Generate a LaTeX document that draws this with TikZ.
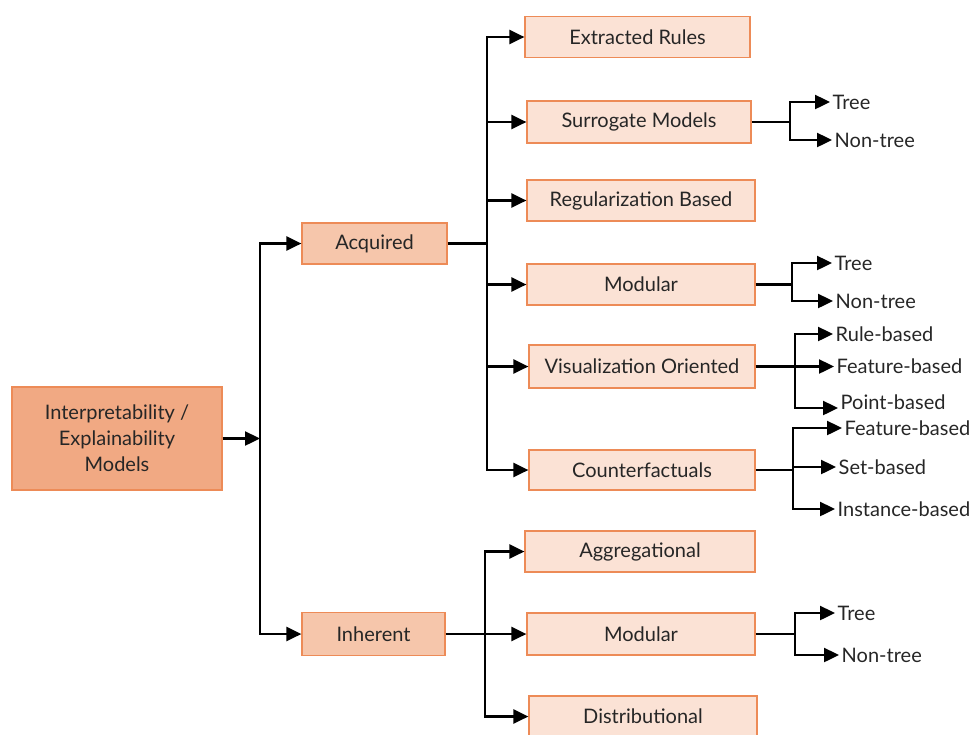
\documentclass[tikz,border=0pt]{standalone}
\usepackage{fontspec}
\setmainfont{Lato}
\usetikzlibrary{arrows.meta}
\definecolor{rootfill}{HTML}{F1A983}
\definecolor{midfill}{HTML}{F6C6AB}
\definecolor{leaffill}{HTML}{FBE2D5}
\definecolor{boxline}{HTML}{ED8B57}
\definecolor{ink}{HTML}{262626}
\tikzset{
  box/.style={draw=boxline, line width=1.2pt, text=ink, align=center,
    font=\fontsize{20}{26}\selectfont, inner sep=0pt},
  rootbox/.style={box, fill=rootfill},
  midbox/.style={box, fill=midfill},
  leafbox/.style={box, fill=leaffill},
  tag/.style={anchor=west, text=ink, inner sep=2.5pt, font=\fontsize{20}{24}\selectfont},
  link/.style={draw=black, line width=2.4pt},
  arr/.style={link, -{Triangle[length=15pt,width=14pt]}},
}
\begin{document}
\begin{tikzpicture}[x=1pt,y=-1pt]
\useasboundingbox (0,0) rectangle (979,734);
\begin{scope}
\clip (0,0) rectangle (979,734);

% main boxes
\node[rootbox, minimum width=210pt, minimum height=103pt] (root) at (117,438.5)
  {Interpretability /\\ Explainability\\ Models};
\node[midbox, minimum width=145pt, minimum height=41pt] (acq) at (374.5,243.5) {Acquired};
\node[midbox, minimum width=143pt, minimum height=43pt] (inh) at (373.5,634) {Inherent};

% acquired branch
\node[leafbox, minimum width=225pt, minimum height=41pt] (er) at (637.5,37) {Extracted Rules};
\node[leafbox, minimum width=224pt, minimum height=42pt] (sm) at (639,122) {Surrogate Models};
\node[leafbox, minimum width=228pt, minimum height=41pt] (rb) at (641,200.5) {Regularization Based};
\node[leafbox, minimum width=228pt, minimum height=41pt] (moa) at (641,284.5) {Modular};
\node[leafbox, minimum width=226pt, minimum height=43pt] (vo) at (642,366.5) {Visualization Oriented};
\node[leafbox, minimum width=226pt, minimum height=40pt] (cf) at (642,470) {Counterfactuals};

% inherent branch
\node[leafbox, minimum width=230pt, minimum height=41pt] (ag) at (640,551.5) {Aggregational};
\node[leafbox, minimum width=228pt, minimum height=42pt] (mob) at (641,634) {Modular};
\node[leafbox, minimum width=228pt, minimum height=41pt] (di) at (643,716.5) {Distributional};

% leaf labels
\node[tag] (smt) at (830,102) {Tree};
\node[tag] (smn) at (832,140) {Non-tree};
\node[tag] (moat) at (832,263) {Tree};
\node[tag] (moan) at (833,301) {Non-tree};
\node[tag] (vor) at (833,334) {Rule-based};
\node[tag] (vof) at (834,366.5) {Feature-based};
\node[tag] (vop) at (838,402) {Point-based};
\node[tag] (cff) at (842,428) {Feature-based};
\node[tag] (cfs) at (836,467) {Set-based};
\node[tag] (cfi) at (835,509) {Instance-based};
\node[tag] (mobt) at (835,613) {Tree};
\node[tag] (mobn) at (839,655) {Non-tree};

% junction columns
\coordinate (tr) at (260,0);
\coordinate (ta) at (487,0);
\coordinate (ti) at (485,0);
\coordinate (jsm) at (790,0);
\coordinate (jmoa) at (792,0);
\coordinate (jvo) at (795,0);
\coordinate (jcf) at (793,0);
\coordinate (jmob) at (795,0);
\end{scope}

% root to second level
\draw[arr] (root.east) -- (tr |- root.east);
\draw[arr] (tr |- inh.west) |- (acq.west);
\draw[arr] (tr |- acq.west) |- (inh.west);

% acquired fan-out
\draw[link] (acq.east) -- (ta |- acq.east);
\draw[arr] (ta |- cf.west) |- (er.west);
\draw[arr] (ta |- er.west) |- (cf.west);
\draw[arr] (ta |- sm.west) -- (sm.west);
\draw[arr] (ta |- rb.west) -- (rb.west);
\draw[arr] (ta |- moa.west) -- (moa.west);
\draw[arr] (ta |- vo.west) -- (vo.west);

% inherent fan-out
\draw[arr] (inh.east) -- (mob.west);
\draw[arr] (ti |- di.west) |- (ag.west);
\draw[arr] (ti |- ag.west) |- (di.west);

% third level
\draw[link] (sm.east) -- (jsm |- sm.east);
\draw[arr] (jsm |- smn.west) |- (smt.west);
\draw[arr] (jsm |- smt.west) |- (smn.west);

\draw[link] (moa.east) -- (jmoa |- moa.east);
\draw[arr] (jmoa |- moan.west) |- (moat.west);
\draw[arr] (jmoa |- moat.west) |- (moan.west);

\draw[arr] (vo.east) -- (vof.west);
\draw[arr] (jvo |- 0,408) |- (vor.west);
\draw[arr] (jvo |- vor.west) |- (vop.west |- 0,408);

\draw[link] (cf.east) -- (jcf |- cf.east);
\draw[arr] (jcf |- cfi.west) |- (cff.west);
\draw[arr] (jcf |- cff.west) |- (cfi.west);
\draw[arr] (jcf |- cfs.west) -- (cfs.west);

\draw[link] (mob.east) -- (jmob |- mob.east);
\draw[arr] (jmob |- mobn.west) |- (mobt.west);
\draw[arr] (jmob |- mobt.west) |- (mobn.west);
\end{tikzpicture}
\end{document}
